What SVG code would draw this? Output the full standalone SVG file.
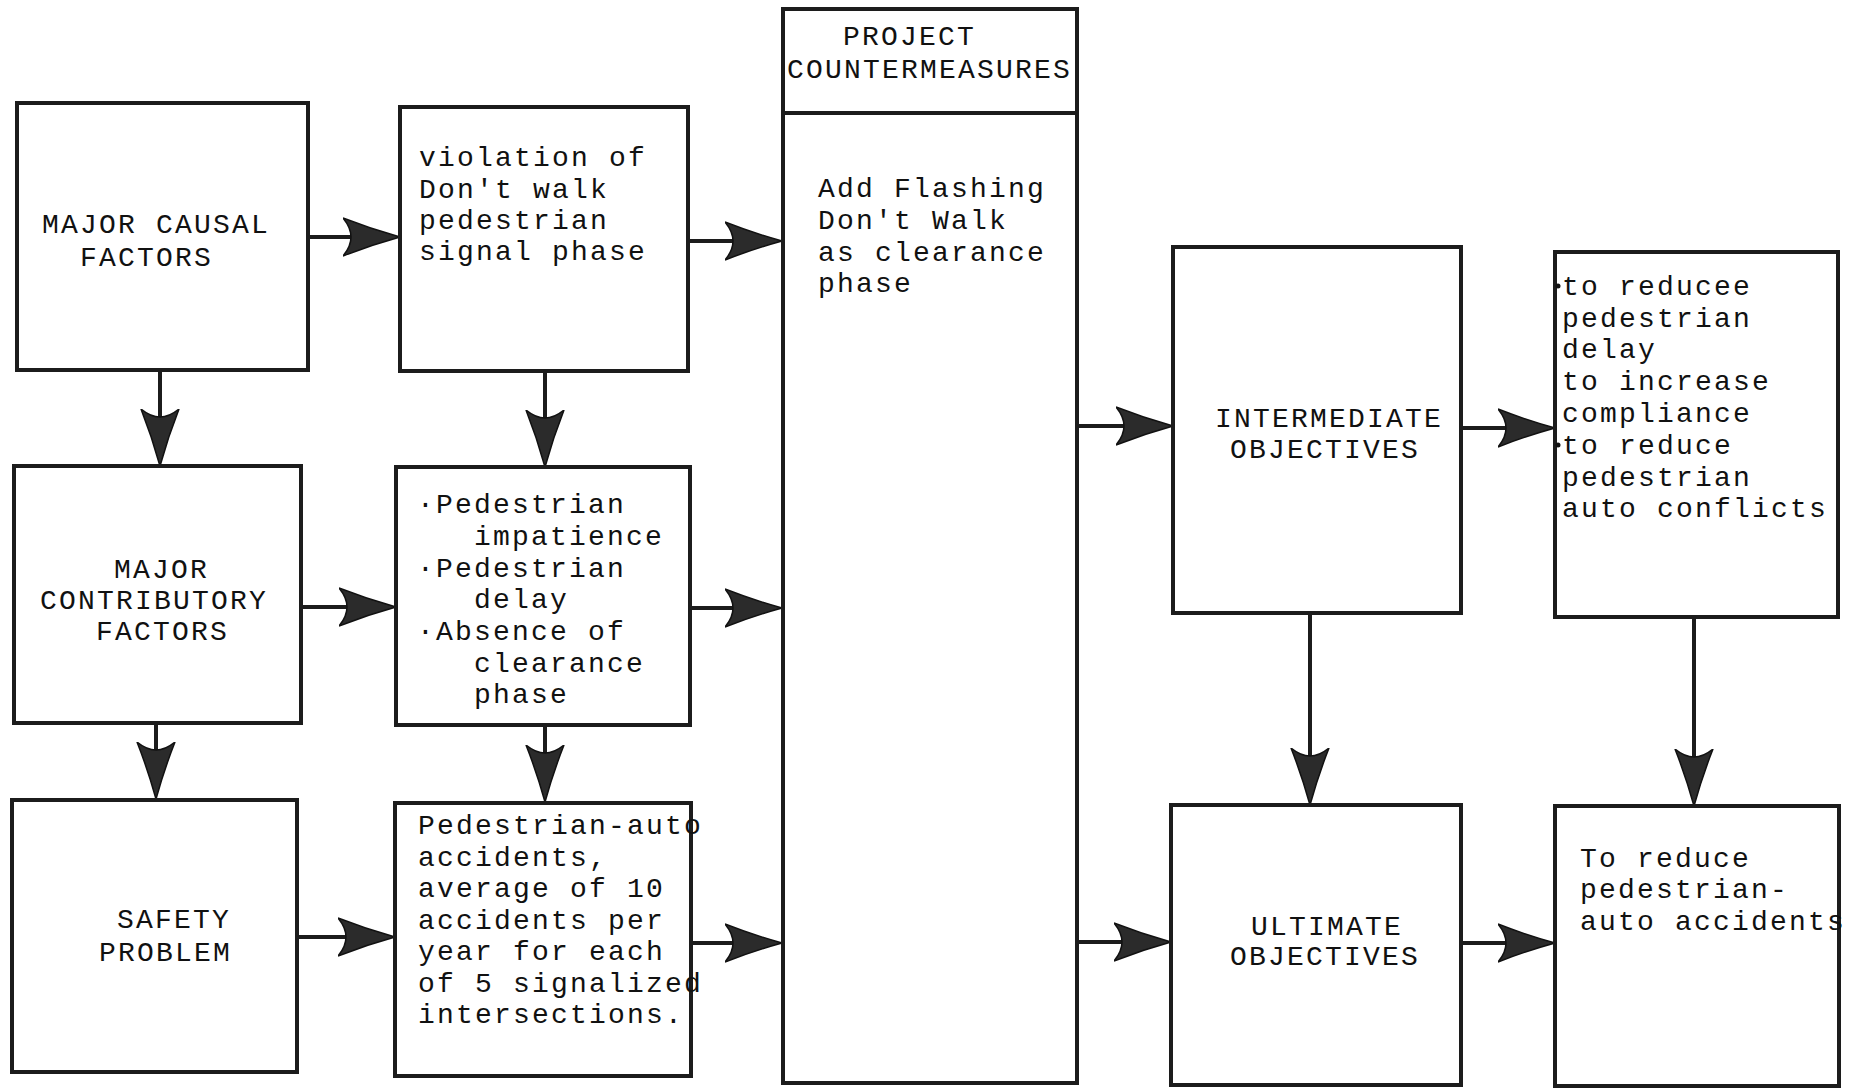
<svg xmlns="http://www.w3.org/2000/svg" width="1858" height="1089" viewBox="0 0 1858 1089">
<style>
.box{fill:#fff;stroke:#1c1c1c;stroke-width:4}
.t{font-family:"Liberation Mono","Courier New",monospace;font-size:28px;letter-spacing:2.2px;fill:#111}
.h{font-family:"Liberation Mono","Courier New",monospace;font-size:28px;letter-spacing:2.2px;fill:#111}
.c{stroke:#1c1c1c;stroke-width:4;fill:none}
</style>
<defs>
<marker id="ah" markerUnits="userSpaceOnUse" markerWidth="60" markerHeight="40" viewBox="0 0 60 40" refX="37" refY="20" orient="auto">
<path d="M57 20 Q28 12 0 1 Q16 20 0 39 Q28 28 57 20 Z" fill="#2b2b2b" stroke="#111" stroke-width="1.5"/>
</marker>
</defs>
<rect width="1858" height="1089" fill="#fff"/>
<g id="connectors">
<line class="c" x1="308" y1="237" x2="380" y2="237" marker-end="url(#ah)"/>
<line class="c" x1="688" y1="241" x2="762" y2="241" marker-end="url(#ah)"/>
<line class="c" x1="301" y1="607" x2="376" y2="607" marker-end="url(#ah)"/>
<line class="c" x1="690" y1="608" x2="762" y2="608" marker-end="url(#ah)"/>
<line class="c" x1="297" y1="937" x2="375" y2="937" marker-end="url(#ah)"/>
<line class="c" x1="691" y1="943" x2="762" y2="943" marker-end="url(#ah)"/>
<line class="c" x1="1078" y1="426" x2="1153" y2="426" marker-end="url(#ah)"/>
<line class="c" x1="1461" y1="428" x2="1535" y2="428" marker-end="url(#ah)"/>
<line class="c" x1="1078" y1="942" x2="1151" y2="942" marker-end="url(#ah)"/>
<line class="c" x1="1461" y1="943" x2="1535" y2="943" marker-end="url(#ah)"/>
<line class="c" x1="160" y1="370" x2="160" y2="446" marker-end="url(#ah)"/>
<line class="c" x1="545" y1="371" x2="545" y2="447" marker-end="url(#ah)"/>
<line class="c" x1="156" y1="723" x2="156" y2="779" marker-end="url(#ah)"/>
<line class="c" x1="545" y1="725" x2="545" y2="782" marker-end="url(#ah)"/>
<line class="c" x1="1310" y1="613" x2="1310" y2="785" marker-end="url(#ah)"/>
<line class="c" x1="1694" y1="617" x2="1694" y2="786" marker-end="url(#ah)"/>
</g>
<g id="major-causal">
<rect class="box" x="17" y="103" width="291" height="267"/>
<text class="h" x="42" y="233">MAJOR CAUSAL</text>
<text class="h" x="80" y="266">FACTORS</text>
</g>
<g id="violation">
<rect class="box" x="400" y="107" width="288" height="264"/>
<text class="t" x="419" y="166">violation of</text>
<text class="t" x="419" y="198">Don't walk</text>
<text class="t" x="419" y="229">pedestrian</text>
<text class="t" x="419" y="260">signal phase</text>
</g>
<g id="major-contributory">
<rect class="box" x="14" y="466" width="287" height="257"/>
<text class="h" x="114" y="578">MAJOR</text>
<text class="h" x="40" y="609">CONTRIBUTORY</text>
<text class="h" x="96" y="640">FACTORS</text>
</g>
<g id="factors-list">
<rect class="box" x="396" y="467" width="294" height="258"/>
<text class="t" x="417" y="513">·Pedestrian</text>
<text class="t" x="474" y="545">impatience</text>
<text class="t" x="417" y="577">·Pedestrian</text>
<text class="t" x="474" y="608">delay</text>
<text class="t" x="417" y="640">·Absence of</text>
<text class="t" x="474" y="672">clearance</text>
<text class="t" x="474" y="703">phase</text>
</g>
<g id="safety-problem">
<rect class="box" x="12" y="800" width="285" height="272"/>
<text class="h" x="117" y="928">SAFETY</text>
<text class="h" x="99" y="961">PROBLEM</text>
</g>
<g id="accidents">
<rect class="box" x="395" y="803" width="296" height="273"/>
<text class="t" x="418" y="834">Pedestrian-auto</text>
<text class="t" x="418" y="866">accidents,</text>
<text class="t" x="418" y="897">average of 10</text>
<text class="t" x="418" y="929">accidents per</text>
<text class="t" x="418" y="960">year for each</text>
<text class="t" x="418" y="992">of 5 signalized</text>
<text class="t" x="418" y="1023">intersections.</text>
</g>
<g id="project-countermeasures">
<rect class="box" x="783" y="9" width="294" height="1074"/>
<line class="c" x1="783" y1="113" x2="1077" y2="113"/>
<text class="h" x="843" y="45">PROJECT</text>
<text class="h" x="787" y="78">COUNTERMEASURES</text>
<text class="t" x="818" y="197">Add Flashing</text>
<text class="t" x="818" y="229">Don't Walk</text>
<text class="t" x="818" y="261">as clearance</text>
<text class="t" x="818" y="292">phase</text>
</g>
<g id="intermediate-objectives">
<rect class="box" x="1173" y="247" width="288" height="366"/>
<text class="h" x="1215" y="427">INTERMEDIATE</text>
<text class="h" x="1230" y="458">OBJECTIVES</text>
</g>
<g id="intermediate-list">
<rect class="box" x="1555" y="252" width="283" height="365"/>
<circle cx="1558" cy="286" r="2.5" fill="#111"/>
<circle cx="1558" cy="445" r="2.5" fill="#111"/>
<text class="t" x="1562" y="295">to reducee</text>
<text class="t" x="1562" y="327">pedestrian</text>
<text class="t" x="1562" y="358">delay</text>
<text class="t" x="1562" y="390">to increase</text>
<text class="t" x="1562" y="422">compliance</text>
<text class="t" x="1562" y="454">to reduce</text>
<text class="t" x="1562" y="486">pedestrian</text>
<text class="t" x="1562" y="517">auto conflicts</text>
</g>
<g id="ultimate-objectives">
<rect class="box" x="1171" y="805" width="290" height="280"/>
<text class="h" x="1251" y="935">ULTIMATE</text>
<text class="h" x="1230" y="965">OBJECTIVES</text>
</g>
<g id="ultimate-list">
<rect class="box" x="1555" y="806" width="284" height="280"/>
<text class="t" x="1580" y="867">To reduce</text>
<text class="t" x="1580" y="898">pedestrian-</text>
<text class="t" x="1580" y="930">auto accidents</text>
</g>
</svg>
